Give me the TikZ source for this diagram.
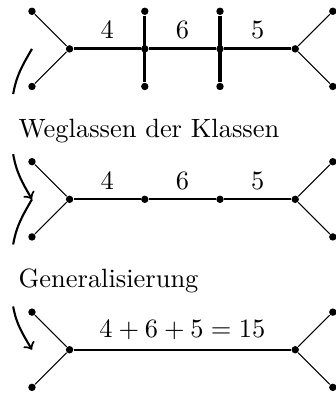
\documentclass[tikz,border=0pt]{standalone}
\usepackage{amsmath,amssymb}
\usepackage{tikz}

\begin{document}
\begin{tikzpicture}[scale=0.5,
  dot/.style={circle, fill=black, inner sep=0pt, minimum size=2.8pt},
  cut/.style={thick}]
\useasboundingbox (-0.85,1.3) rectangle (8.06,-9.23);
% Baum mit Klassen
\node[dot] (p1) at (0,1) {};
\node[dot] (p2) at (0,-1) {};
\node[dot] (p3) at (1,0) {};
\node[dot] (p4) at (3,0) {};
\node[dot] (p5) at (3,1) {};
\node[dot] (p6) at (3,-1) {};
\node[dot] (p7) at (5,0) {};
\node[dot] (p8) at (5,1) {};
\node[dot] (p9) at (5,-1) {};
\node[dot] (p10) at (7,0) {};
\node[dot] (p11) at (8,1) {};
\node[dot] (p12) at (8,-1) {};
\draw (p1) -- (p3) -- (p2);
\draw (p11) -- (p10) -- (p12);
\draw[very thick] (p3) -- node[above] {$4$} (p4) -- node[above] {$6$} (p7) -- node[above] {$5$} (p10);
\draw[very thick] (p5) -- (p6);
\draw[very thick] (p8) -- (p9);
\coordinate (s1) at (0,0);
\coordinate (s2) at (-0.5,-1.2);
\draw[cut] (s1) to[out=-120,in=80] (s2);
\node[anchor=base west] (t1) at (-0.6,-2.35) {Weglassen der Klassen};
% ohne Klassen
\node[dot] (q1) at (0,-3) {};
\node[dot] (q2) at (0,-5) {};
\node[dot] (q3) at (1,-4) {};
\node[dot] (q4) at (3,-4) {};
\node[dot] (q5) at (5,-4) {};
\node[dot] (q6) at (7,-4) {};
\node[dot] (q7) at (8,-3) {};
\node[dot] (q8) at (8,-5) {};
\draw (q1) -- (q3) -- (q2);
\draw (q7) -- (q6) -- (q8);
\draw[thick] (q3) -- node[above] {$4$} (q4) -- node[above] {$6$} (q5) -- node[above] {$5$} (q6);
\coordinate (s3) at (-0.5,-2.8);
\coordinate (s4) at (0,-4);
\coordinate (s5) at (-0.5,-5.2);
\draw[cut,->] (s3) to[out=-80,in=120] (s4);
\draw[cut] (s4) to[out=-120,in=80] (s5);
\node[anchor=base west] (t2) at (-0.6,-6.35) {Generalisierung};
% zusammengefasst
\node[dot] (r1) at (0,-7) {};
\node[dot] (r2) at (0,-9) {};
\node[dot] (r3) at (1,-8) {};
\node[dot] (r4) at (7,-8) {};
\node[dot] (r5) at (8,-7) {};
\node[dot] (r6) at (8,-9) {};
\draw (r1) -- (r3) -- (r2);
\draw (r5) -- (r4) -- (r6);
\draw[thick] (r3) -- node[above] {$4+6+5=15$} (r4);
\coordinate (s6) at (-0.5,-6.85);
\coordinate (s7) at (0,-8);
\draw[cut,->] (s6) to[out=-80,in=120] (s7);
\end{tikzpicture}
\end{document}
